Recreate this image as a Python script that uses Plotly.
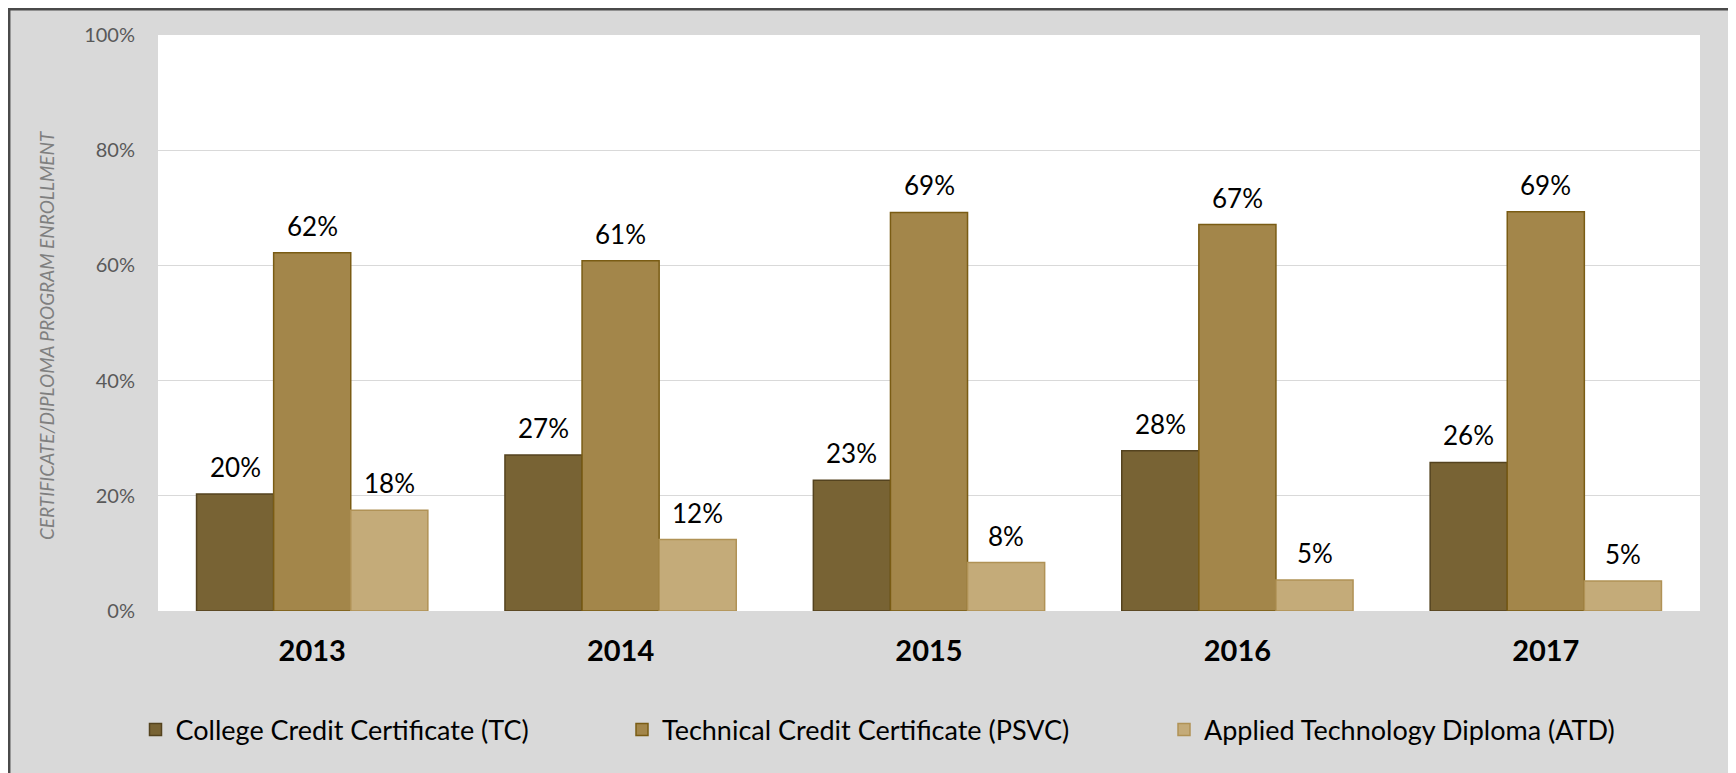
import plotly.graph_objects as go

years = ["2013", "2014", "2015", "2016", "2017"]
series_names = ["College Credit Certificate (TC)",
                "Technical Credit Certificate (PSVC)",
                "Applied Technology Diploma (ATD)"]
tc = [0.203, 0.271, 0.227, 0.278, 0.258]
psvc = [0.622, 0.608, 0.692, 0.671, 0.693]
atd = [0.175, 0.124, 0.084, 0.054, 0.052]
y_tick_vals = [0, 0.2, 0.4, 0.6, 0.8, 1.0]
y_title = "CERTIFICATE/DIPLOMA PROGRAM ENROLLMENT"

fills = ["#786334", "#a3864a", "#c4ab79"]
borders = ["#54431f", "#7a5c14", "#b09256"]

# page layout (browser body has an 8px margin)
OFF = 8
PAGE_W, PAGE_H = 1736, 773
W, H = PAGE_W - OFF, PAGE_H - OFF
# plot area in page pixels
PL, PR, PT, PB = 158, 1700, 35, 611
L, R, T, B = PL - OFF, PR - OFF, PT - OFF, PB - OFF
pw, ph = R - L, B - T


def px(x_page):
    return (x_page - OFF - L) / pw


def py(y_page):
    return (B - (y_page - OFF)) / ph


FONT = "Lato"
fig = go.Figure()
values = [tc, psvc, atd]
legends = ["legend", "legend2", "legend3"]
for i, (name, vals) in enumerate(zip(series_names, values)):
    fig.add_trace(go.Bar(
        x=years, y=vals, name=name,
        marker=dict(color=fills[i], line=dict(color=borders[i], width=1.5)),
        legend=legends[i], hoverinfo="skip",
    ))

bargap = 0.25
bw = (1 - bargap) / 3
annotations = []
for k, vals in enumerate(values):
    for i, v in enumerate(vals):
        annotations.append(dict(
            x=i + (k - 1) * bw, y=v, xref="x", yref="y",
            text=f"{round(v * 100):d}%", showarrow=False,
            yanchor="middle", yshift=27,
            font=dict(family=FONT, size=26, color="#000000"),
        ))

annotations.append(dict(
    x=px(47), y=py(335), xref="paper", yref="paper",
    text=y_title, showarrow=False, textangle=-90,
    xanchor="center", yanchor="middle",
    font=dict(family=FONT, size=19, color="#7f7f7f", style="italic"),
))

shapes = [
    # chart frame
    dict(type="rect", xref="paper", yref="paper",
         x0=px(OFF + 1.2), x1=px(PAGE_W - 1.5), y0=py(PAGE_H + 10), y1=py(OFF + 1.2),
         fillcolor="rgba(0,0,0,0)", line=dict(color="#4a4a4a", width=2.5), layer="above"),
]

leg_common = dict(orientation="h", yanchor="middle", y=py(730), xanchor="left",
                  bgcolor="rgba(0,0,0,0)", font=dict(family=FONT, size=27, color="#000000"),
                  itemwidth=30)

fig.update_layout(
    width=W, height=H,
    margin=dict(l=L, r=W - R, t=T, b=H - B, pad=0),
    paper_bgcolor="#d9d9d9", plot_bgcolor="#ffffff",
    barmode="group", bargap=bargap, bargroupgap=0,
    showlegend=True,
    legend=dict(x=px(135.5), **leg_common),
    legend2=dict(x=px(622), **leg_common),
    legend3=dict(x=px(1164), **leg_common),
    xaxis=dict(
        type="category", showgrid=False, showline=False, zeroline=False,
        ticks="", ticklabelstandoff=20,
        tickfont=dict(family=FONT, size=29, color="#000000", weight="bold"),
    ),
    yaxis=dict(
        range=[0, 1], tickvals=y_tick_vals, tickformat=".0%",
        showgrid=True, gridcolor="#d9d9d9", gridwidth=1.3,
        zeroline=True, zerolinecolor="#d9d9d9", zerolinewidth=1.3,
        showline=False, ticks="", ticklabelstandoff=22,
        tickfont=dict(family=FONT, size=20, color="#595959"),
    ),
    annotations=annotations,
    shapes=shapes,
    font=dict(family=FONT),
)

fig.write_html("out.html")
